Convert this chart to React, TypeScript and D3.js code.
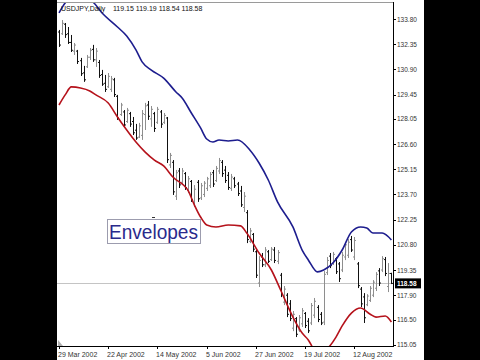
import React from "react";
import * as d3 from "d3";

// ---- data ----
const highs = [
  133.17,133.74,133.57,133.34,132.88,132.42,132.02,131.56,131.10,131.73,
  132.13,132.31,132.13,131.44,130.87,130.58,130.69,130.52,130.41,129.43,
  128.97,128.56,128.68,128.45,128.16,127.76,127.82,128.56,128.97,129.08,
  128.79,128.45,128.74,128.56,128.39,128.16,126.09,125.68,125.11,125.22,
  125.22,124.99,124.76,124.53,124.24,124.53,124.36,124.47,124.71,124.99,
  125.11,125.34,125.80,125.68,125.34,124.99,124.88,124.71,124.42,124.19,
  123.84,122.80,121.77,121.48,120.50,120.15,120.33,120.67,120.50,120.67,
  120.67,120.50,119.18,118.43,118.02,117.62,116.99,116.64,116.76,117.16,
  116.93,116.58,117.45,117.74,117.33,116.93,119.29,120.10,120.33,120.39,
  120.10,119.81,120.39,120.96,121.13,121.31,121.25,119.81,118.37,118.02,
  117.96,118.43,118.77,119.23,119.46,120.15,120.10,119.75,119.19,
];
const lows = [
  132.19,132.88,132.71,132.36,131.90,131.73,131.21,130.52,130.18,130.98,
  131.44,131.33,131.04,130.41,129.95,129.60,129.83,129.60,129.31,127.99,
  128.22,127.59,127.82,127.59,127.12,126.84,126.95,126.84,127.41,127.99,
  127.59,127.30,127.76,127.53,127.76,125.51,125.22,123.67,123.38,124.07,
  124.30,123.96,123.78,123.27,122.98,123.27,123.38,123.55,123.90,124.07,
  124.13,124.42,124.88,124.71,124.36,123.96,123.90,124.07,123.61,122.98,
  122.69,120.90,120.90,120.39,118.89,118.37,119.52,119.52,119.75,119.87,
  119.75,119.69,117.79,117.33,116.64,116.41,115.83,115.49,115.78,116.07,
  116.01,115.72,116.18,116.58,116.35,116.18,116.18,119.06,119.46,119.64,
  119.12,118.66,119.23,119.92,120.04,120.39,119.92,118.31,117.22,116.30,
  117.27,117.51,117.79,118.14,118.43,119.23,119.00,118.08,118.54,
];
const opens = [
  133.05,132.95,133.50,132.95,132.45,131.95,131.95,131.40,130.70,131.05,
  131.60,132.05,131.45,131.30,130.60,130.10,129.90,129.75,130.30,129.35,
  128.30,128.45,127.90,128.35,127.90,127.40,127.00,127.10,128.30,128.85,
  128.05,128.35,127.85,128.45,127.85,128.10,125.40,125.55,123.60,125.05,
  124.40,124.90,123.95,124.45,123.20,124.40,123.50,123.70,124.05,124.20,
  124.95,124.50,125.05,125.55,125.10,124.80,124.05,124.60,124.30,123.90,
  122.95,122.65,121.00,121.40,120.40,118.60,120.10,119.65,120.40,119.95,
  120.50,119.85,119.05,117.50,117.90,117.40,116.00,116.55,115.90,116.25,
  116.85,116.40,116.30,116.75,117.20,116.80,116.35,119.20,120.15,119.75,
  120.00,119.70,119.35,120.10,120.20,121.10,120.10,119.70,118.25,117.80,
  117.35,117.60,117.90,118.30,119.30,119.35,119.95,118.40,119.15,
];
const closes = [
  132.30,133.55,132.90,132.45,132.00,132.30,131.35,130.65,130.30,131.60,
  132.00,131.45,131.95,130.55,130.05,129.75,130.50,130.35,129.45,128.10,
  128.85,127.70,128.55,127.75,127.25,126.95,127.65,128.35,128.80,128.20,
  128.60,127.50,128.60,127.75,128.25,125.70,125.95,123.85,124.95,124.25,
  125.05,124.10,124.60,123.40,124.00,123.45,124.20,124.35,124.60,124.85,
  124.30,125.20,125.65,124.90,124.50,124.10,124.70,124.20,123.75,123.10,
  123.60,121.10,121.60,120.55,119.05,119.90,119.65,120.50,119.85,120.55,
  119.90,120.35,117.95,118.25,116.80,116.55,116.80,115.65,116.60,117.00,
  116.15,115.85,117.30,117.55,116.50,116.30,119.10,119.90,119.60,120.25,
  119.25,118.85,120.20,120.80,120.95,120.50,121.05,118.45,117.40,116.60,
  117.85,118.30,118.65,119.10,118.60,120.00,119.15,119.15,118.58,
];

const upperIdx = [0,2,5,8,11,14,19,22,25,27,30,34,38,40,43,46,48,50,52,55,58,62,65,68,71,76,79,81,84,86,89,92,95,98,100,102,105,108];
const upperVal = [134.15,134.72,135.12,135.01,134.78,134.15,133.34,132.82,132.02,131.33,130.86,130.40,129.60,129.25,128.39,127.53,126.89,126.72,126.83,126.78,126.83,126.26,125.51,124.53,123.27,121.83,120.50,119.93,119.24,119.35,119.75,120.50,121.54,121.83,121.77,121.48,121.48,121.08];
const lowerIdx = [0,2,4,7,10,12,16,19,22,25,28,31,34,37,42,44,46,48,51,55,59,61,65,69,72,76,79,81,83,85,88,90,92,95,98,101,103,106,108];
const lowerVal = [128.85,129.43,129.89,129.83,129.66,129.43,128.96,128.16,127.41,126.72,126.14,125.68,125.34,124.70,123.90,123.09,122.40,121.94,121.83,121.94,121.89,121.48,120.33,119.35,118.20,116.64,115.72,115.32,114.74,114.57,114.98,115.49,116.13,116.87,117.16,116.82,116.64,116.70,116.36];

const priceTicks = [133.80,132.35,130.90,129.45,128.05,126.60,125.15,123.70,122.25,120.80,119.35,117.90,116.50,115.05];
const dateTickIdx = [0,16,32,48,64,80,96];
const dateTickLabels = ["29 Mar 2002","22 Apr 2002","14 May 2002","5 Jun 2002","27 Jun 2002","19 Jul 2002","12 Aug 2002"];

const symbolTitle = "USDJPY,Daily";
const lastOHLC = ["119.15","119.19","118.54","118.58"];
const lastPrice = 118.58;
const legendText = "Envelopes";

// ---- layout ----
const W = 480, H = 360;
const L = 57, R = 393, T = 2, B = 346;
const FONT = "'Liberation Sans', Arial, sans-serif";

export default function App() {
  const x = d3.scaleLinear().domain([0, 108]).range([59, 391.4]);
  const y = d3.scaleLinear().domain([115.05, 133.8]).range([344.7, 19]);

  const upper = upperIdx.map((i, k) => [i, upperVal[k]] as [number, number]);
  const lower = lowerIdx.map((i, k) => [i, lowerVal[k]] as [number, number]);
  const line = d3
    .line<[number, number]>()
    .x((d) => x(d[0]))
    .y((d) => y(d[1]))
    .curve(d3.curveMonotoneX);

  const py = Math.round(y(lastPrice)) + 0.5;

  return (
    <svg
      width={W}
      height={H}
      style={{ position: "absolute", left: 0, top: 0, display: "block" }}
    >
      <defs>
        <clipPath id="plot">
          <rect x={L} y={T} width={R - L} height={B - T} />
        </clipPath>
      </defs>
      <rect x={0} y={0} width={W} height={H} fill="#fff" />

      {/* price line */}
      <line x1={L} x2={R} y1={py} y2={py} stroke="#c4c4c4" strokeWidth={1} />

      {/* bars */}
      <g clipPath="url(#plot)">
        {highs.map((h, i) => {
          const cx = Math.round(x(i)) + 0.5;
          const down = closes[i] < opens[i];
          const col = down ? "#111" : "#8e8e8e";
          return (
            <g key={i} stroke={col} strokeWidth={1}>
              <line x1={cx} x2={cx} y1={y(h)} y2={y(lows[i])} />
              <line x1={cx - 1.5} x2={cx} y1={y(opens[i])} y2={y(opens[i])} />
              <line x1={cx} x2={cx + 1.5} y1={y(closes[i])} y2={y(closes[i])} />
            </g>
          );
        })}
        <path d={line(upper) || ""} fill="none" stroke="#1d1d8e" strokeWidth={1.6} />
        <path d={line(lower) || ""} fill="none" stroke="#b5121b" strokeWidth={1.6} />
      </g>

      {/* frame */}
      <line x1={L} x2={R} y1={T + 0.5} y2={T + 0.5} stroke="#9a9a9a" />
      <line x1={R + 0.5} x2={R + 0.5} y1={T} y2={B + 1} stroke="#000" />
      <line x1={L} x2={R + 1} y1={B + 0.5} y2={B + 0.5} stroke="#000" />
      <path d={`M${L + 1},${B - 6} L${L + 1},${B} L${L + 6},${B} Z`} fill="#b0b0b0" />

      {/* price axis */}
      {priceTicks.map((v) => (
        <g key={v}>
          <line x1={R} x2={R + 3} y1={Math.round(y(v)) + 0.5} y2={Math.round(y(v)) + 0.5} stroke="#000" />
          <text x={397} y={y(v) + 2.5} fontSize={6.5} fontFamily={FONT} fill="#333">
            {v.toFixed(2)}
          </text>
        </g>
      ))}
      <rect x={395} y={y(lastPrice) - 5} width={26} height={10} fill="#000" />
      <text x={397} y={y(lastPrice) + 2.5} fontSize={6.5} fontFamily={FONT} fill="#fff" fontWeight="bold">
        {lastPrice.toFixed(2)}
      </text>

      {/* date axis */}
      {dateTickIdx.map((i, k) => {
        const tx = Math.round(x(i)) + 0.5;
        return (
          <g key={i}>
            <line x1={tx} x2={tx} y1={B} y2={B + 3} stroke="#000" />
            <text x={tx - 1.5} y={356.5} fontSize={7} fontFamily={FONT} fill="#333">
              {dateTickLabels[k]}
            </text>
          </g>
        );
      })}

      {/* header */}
      <text x={61} y={10.5} fontSize={7} fontFamily={FONT} fill="#111">
        {symbolTitle}
      </text>
      <text x={113} y={10.5} fontSize={7} fontFamily={FONT} fill="#111">
        {lastOHLC.join(" ")}
      </text>

      {/* legend label */}
      <line x1={152} x2={155} y1={217.5} y2={217.5} stroke="#333" />
      <rect x={107.5} y={219.5} width={93} height={24} fill="#fff" stroke="#9c9cae" />
      <text
        x={109}
        y={239}
        fontSize={20}
        fontFamily={FONT}
        fill="#2a2a8c"
        textLength={89}
        lengthAdjust="spacingAndGlyphs"
      >
        {legendText}
      </text>

      {/* letterbox */}
      <rect x={0} y={0} width={L} height={H} fill="#000" />
      <rect x={424} y={0} width={W - 424} height={H} fill="#000" />
    </svg>
  );
}
